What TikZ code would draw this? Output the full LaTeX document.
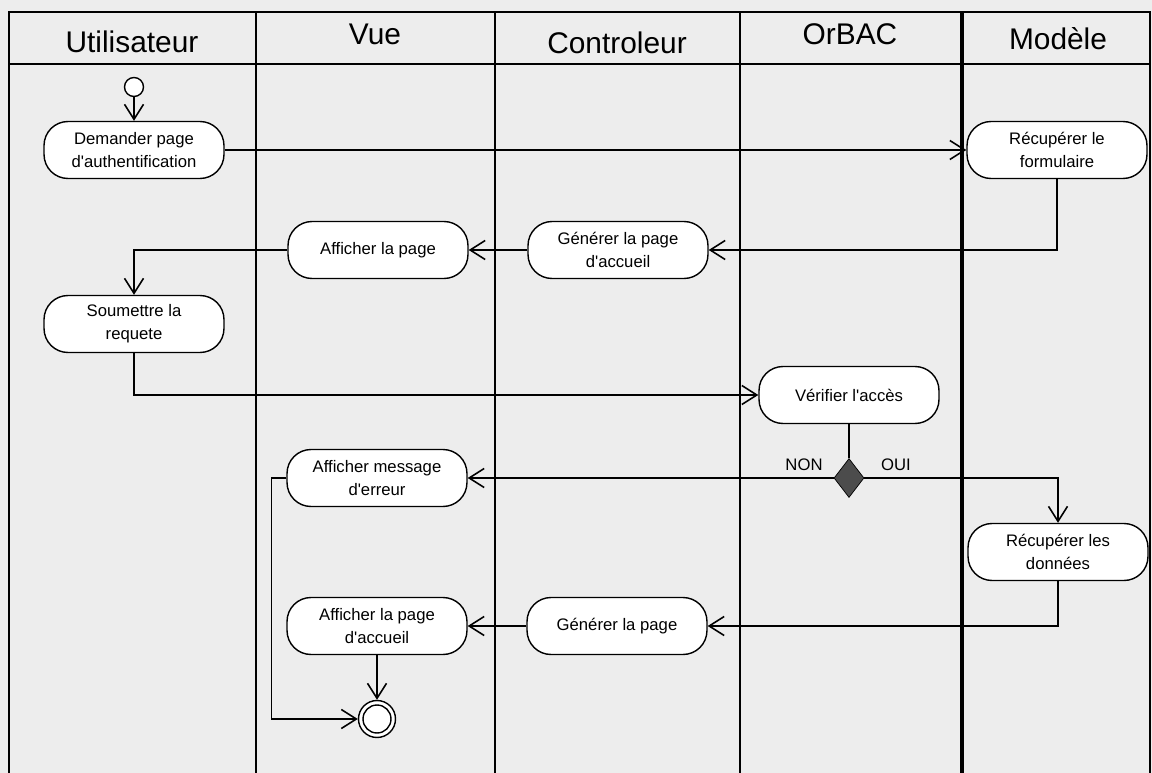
\documentclass[tikz,border=0pt]{standalone}
\usepackage{fontspec}
\setmainfont{Liberation Sans}[Ligatures=TeXOff]
\usetikzlibrary{arrows.meta,shapes.geometric,positioning}
\tikzstyle{lane}=[line width=1.1pt]
\tikzstyle{head}=[font=\fontsize{17}{20}\selectfont]
\tikzstyle{act}=[draw,fill=white,line width=0.8pt,rounded corners=0.48cm,minimum width=3.6cm,minimum height=1.14cm,align=center,font=\fontsize{9.5}{13}\selectfont]
\tikzstyle{flow}=[line width=0.9pt,-{Straight Barb[length=0.3cm,width=0.38cm]}]
\tikzstyle{guard}=[font=\fontsize{9.5}{11}\selectfont]
\tikzstyle{choice}=[diamond,draw,fill=black!70,minimum width=0.6cm,minimum height=0.78cm,inner sep=0pt]

\begin{document}
\begin{tikzpicture}[x=0.02cm,y=-0.02cm]
    \useasboundingbox (0,0) rectangle (1152,773);
    \fill[black!7] (0,0) rectangle (1152,773);
    \draw[lane] (9,773) -- (9,12) -- (1150,12) -- (1150,773);
    \draw[lane] (9,64) -- (1150,64);
    \draw[lane] (256,12) -- (256,773);
    \draw[lane] (495,12) -- (495,773);
    \draw[lane] (740,12) -- (740,773);
    \draw[lane,line width=2pt] (962,12) -- (962,773);
    \node[head] (hUtil) at (132,42) {Utilisateur};
    \node[head] (hVue) at (375,34) {Vue};
    \node[head] (hCtrl) at (617,43) {Controleur};
    \node[head] (hOrbac) at (850,34) {OrBAC};
    \node[head] (hModele) at (1058,39) {Modèle};

    \node[draw,circle,fill=white,line width=0.8pt,minimum size=0.38cm,inner sep=0pt] (start) at (134,87) {};
    \node[act] (demande) at (134,150) {Demander page\\d'authentification};
    \node[act] (formulaire) at (1057,150) {Récupérer le\\formulaire};
    \node[act] (genAccueil) at (618,250) {Générer la page\\d'accueil};
    \node[act] (affPage) at (378,250) {Afficher la page};
    \node[act] (soumettre) at (134,324) {Soumettre la\\requete};
    \node[act] (verifier) at (849,395) {Vérifier l'accès};
    \node[choice] (choix) at (849,478) {};
    \node[act] (erreur) at (377,478) {Afficher message\\d'erreur};
    \node[act] (donnees) at (1058,552) {Récupérer les\\données};
    \node[act] (genPage) at (617,626) {Générer la page};
    \node[act] (affAccueil) at (377,626) {Afficher la page\\d'accueil};
    \node[draw,circle,fill=white,line width=0.8pt,minimum size=0.74cm,inner sep=0pt] (fin) at (377,719) {};
    \node[draw,circle,line width=0.8pt,minimum size=0.56cm,inner sep=0pt] (finIn) at (fin) {};
    \node[guard] (non) at (804,465) {NON};
    \node[guard] (oui) at (896,465) {OUI};

    \draw[flow] (start) -- (demande);
    \draw[flow] (demande) -- (formulaire);
    \draw[flow] (formulaire.south) |- (genAccueil.east);
    \draw[flow] (genAccueil) -- (affPage);
    \draw[flow] (affPage.west) -| (soumettre.north);
    \draw[flow] (soumettre.south) |- (verifier.west);
    \draw[line width=0.9pt] (verifier) -- (choix);
    \draw[flow] (choix.west) -- (erreur.east);
    \draw[flow] (choix.east) -| (donnees.north);
    \draw[flow] (donnees.south) |- (genPage.east);
    \draw[flow] (genPage) -- (affAccueil);
    \draw[flow] (affAccueil) -- (fin);
    \draw[flow] (erreur.west) -- ++(-15,0) |- (fin.west);
\end{tikzpicture}
\end{document}
